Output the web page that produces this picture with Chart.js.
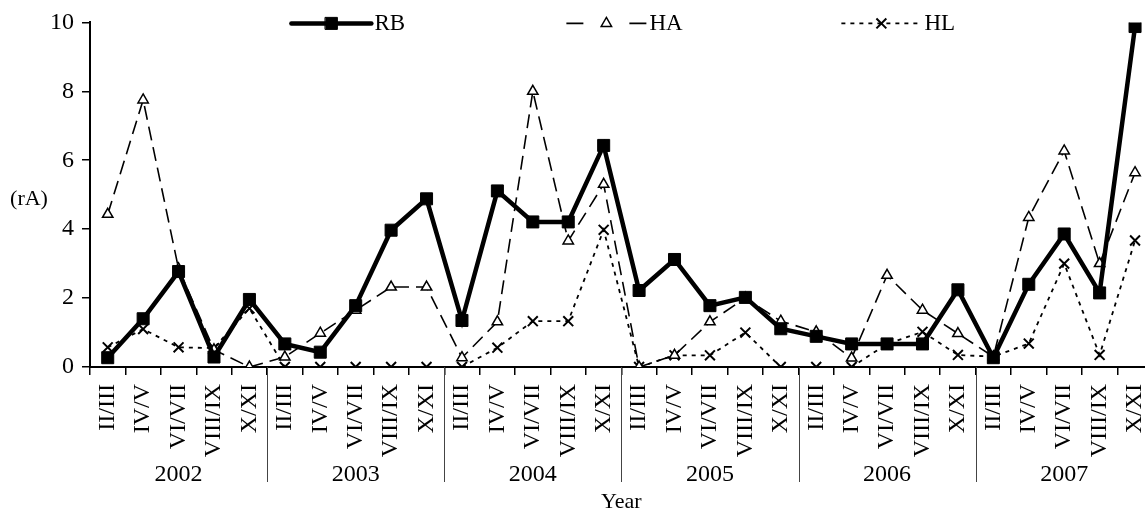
<!DOCTYPE html>
<html>
<head>
<meta charset="utf-8">
<script src="https://cdn.jsdelivr.net/npm/chart.js@4.4.1/dist/chart.umd.min.js"></script>
<style>
  html, body { margin: 0; padding: 0; overflow: hidden; background: #fff; }
  #myChart { display: block; }
</style>
</head>
<body>
<canvas id="myChart" width="1173" height="513"></canvas>
<script>
const years = ['2002', '2003', '2004', '2005', '2006', '2007'];
const periods = ['II/III', 'IV/V', 'VI/VII', 'VIII/IX', 'X/XI'];
const yTicks = [0, 2, 4, 6, 8, 10];

// values per bimonthly period, 2002..2007
const rb = [0.27, 1.40, 2.77, 0.29, 1.96, 0.67, 0.43, 1.78, 3.97, 4.88,
            1.35, 5.11, 4.21, 4.21, 6.43, 2.22, 3.12, 1.78, 2.02, 1.11,
            0.89, 0.67, 0.67, 0.67, 2.24, 0.27, 2.40, 3.86, 2.15, 9.88];
const ha = [4.43, 7.75, 2.85, 0.50, 0.00, 0.29, 0.98, 1.65, 2.32, 2.32,
            0.27, 1.31, 8.00, 3.66, 5.30, 0.00, 0.34, 1.31, 2.00, 1.33,
            1.02, 0.26, 2.66, 1.65, 0.97, 0.30, 4.34, 6.27, 3.00, 5.64];
const hl = [0.57, 1.10, 0.57, 0.55, 1.70, 0.00, 0.00, 0.00, 0.00, 0.00,
            0.00, 0.56, 1.33, 1.33, 3.98, 0.00, 0.34, 0.34, 1.00, 0.00,
            0.00, 0.00, 0.67, 1.02, 0.35, 0.30, 0.68, 3.00, 0.35, 3.67];

const labels = years.flatMap(() => periods);
const serif = '"Liberation Serif", "DejaVu Serif", serif';

const series = [
    { label: 'RB', data: rb, borderWidth: 4.5, dash: [], pointStyle: 'rect', pointRadius: 8.5, fill: '#000', pointBorderWidth: 1 },
    { label: 'HA', data: ha, borderWidth: 1.6, dash: [14, 7], pointStyle: 'triangle', pointRadius: 6, fill: '#fff', pointBorderWidth: 1.5 },
    { label: 'HL', data: hl, borderWidth: 1.8, dash: [4, 5], pointStyle: 'crossRot', pointRadius: 7, fill: '#000', pointBorderWidth: 2 }
];

// year dividers, year names, "(rA)" and the line-sample legend
const extrasPlugin = {
    id: 'extras',
    afterDraw(chart) {
        const ctx = chart.ctx;
        const x = chart.scales.x;
        const area = chart.chartArea;
        const step = x.getPixelForValue(1) - x.getPixelForValue(0);
        ctx.save();
        ctx.fillStyle = '#000';
        ctx.textAlign = 'center';
        ctx.textBaseline = 'middle';

        // dividers between years
        ctx.strokeStyle = '#444';
        ctx.lineWidth = 1;
        for (let i = 1; i < years.length; i++) {
            const px = Math.round(x.getPixelForValue(i * periods.length) - step / 2) + 0.5;
            ctx.beginPath();
            ctx.moveTo(px, area.bottom);
            ctx.lineTo(px, area.bottom + 115);
            ctx.stroke();
        }

        // year names
        ctx.font = '24px ' + serif;
        years.forEach((yr, i) => {
            const cx = x.getPixelForValue(i * periods.length + (periods.length - 1) / 2);
            ctx.fillText(yr, cx, area.bottom + 108);
        });

        // y axis title, horizontal
        ctx.font = '22px ' + serif;
        ctx.fillText('(rA)', 29, (area.top + area.bottom) / 2 + 5);

        // legend
        const mid = (area.left + area.right) / 2;
        const ly = area.top + 1;
        const len = 80;
        series.forEach((s, i) => {
            const x0 = mid - 330 + i * 275;
            const x1 = x0 + len;
            const cxm = (x0 + x1) / 2;
            ctx.strokeStyle = '#000';
            ctx.lineWidth = s.borderWidth;
            ctx.lineCap = i === 0 ? 'round' : 'butt';
            if (i === 1) {
                ctx.setLineDash([]);
                ctx.beginPath();
                ctx.moveTo(x0, ly); ctx.lineTo(x0 + 17, ly);
                ctx.moveTo(x1 - 17, ly); ctx.lineTo(x1, ly);
                ctx.stroke();
            } else {
                ctx.setLineDash(s.dash);
                ctx.beginPath();
                ctx.moveTo(x0, ly);
                ctx.lineTo(x1, ly);
                ctx.stroke();
            }
            ctx.setLineDash([]);
            ctx.fillStyle = s.fill;
            ctx.lineWidth = s.pointBorderWidth;
            Chart.helpers.drawPoint(ctx, {
                pointStyle: s.pointStyle,
                radius: s.pointRadius,
                rotation: 0,
                borderWidth: s.pointBorderWidth
            }, cxm, ly);
            ctx.fillStyle = '#000';
            ctx.textAlign = 'left';
            ctx.font = '23px ' + serif;
            ctx.fillText(s.label, x1 + 3, ly + 1);
        });
        ctx.restore();
    }
};

const canvas = document.getElementById('myChart');
new Chart(canvas, {
    type: 'line',
    data: {
        labels: labels,
        datasets: series.map(s => ({
            label: s.label,
            data: s.data,
            borderColor: '#000',
            borderWidth: s.borderWidth,
            borderDash: s.dash,
            tension: 0,
            fill: false,
            pointStyle: s.pointStyle,
            pointRadius: s.pointRadius,
            pointHoverRadius: s.pointRadius,
            pointBackgroundColor: s.fill,
            pointBorderColor: '#000',
            pointBorderWidth: s.pointBorderWidth
        }))
    },
    options: {
        responsive: false,
        animation: false,
        devicePixelRatio: 1,
        layout: {
            padding: { top: 20, right: 7, bottom: 0, left: 0 }
        },
        plugins: {
            legend: { display: false },
            tooltip: { enabled: false }
        },
        scales: {
            x: {
                offset: true,
                grid: {
                    offset: true,
                    drawOnChartArea: false,
                    drawTicks: true,
                    tickLength: 8,
                    color: '#000',
                    lineWidth: 1.5
                },
                border: { color: '#000', width: 2 },
                ticks: {
                    color: '#000',
                    font: { family: serif, size: 24 },
                    minRotation: 90,
                    maxRotation: 90,
                    autoSkip: false,
                    padding: 9
                },
                title: {
                    display: true,
                    text: 'Year',
                    color: '#000',
                    font: { family: serif, size: 22, lineHeight: 1 },
                    padding: { top: 0, bottom: 0 }
                },
                afterFit: scale => { scale.height = 146; }
            },
            y: {
                min: yTicks[0],
                max: yTicks[yTicks.length - 1],
                afterBuildTicks: scale => { scale.ticks = yTicks.map(v => ({ value: v })); },
                grid: {
                    drawOnChartArea: false,
                    drawTicks: true,
                    tickLength: 8,
                    color: '#000',
                    lineWidth: 1.5
                },
                border: { color: '#000', width: 2 },
                ticks: {
                    color: '#000',
                    font: { family: serif, size: 24 },
                    padding: 8
                },
                afterFit: scale => { scale.width = 90; }
            }
        }
    },
    plugins: [extrasPlugin]
});
</script>
</body>
</html>
